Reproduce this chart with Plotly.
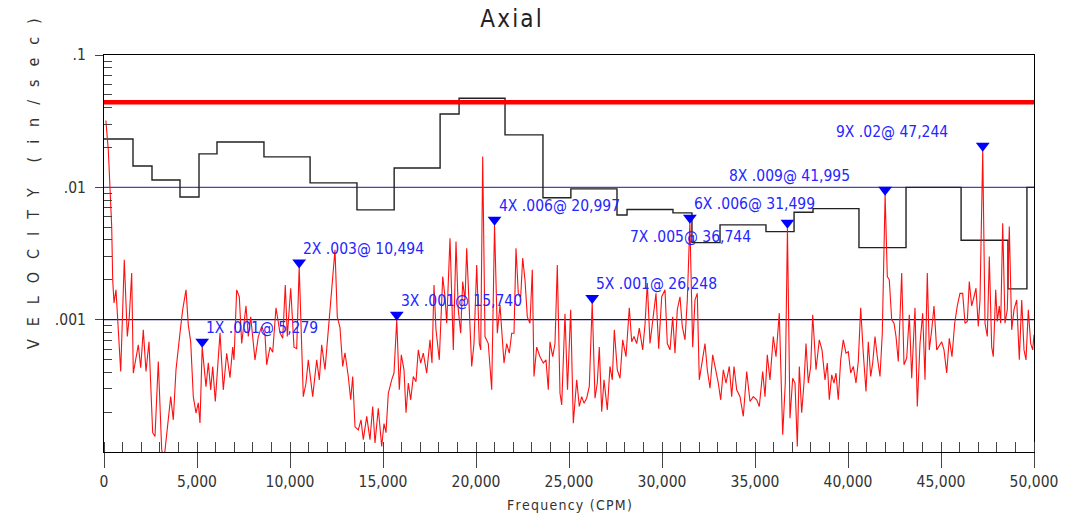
import math
import plotly.graph_objects as go

# ---------------- data ----------------
spec_freq = [100, 231, 414, 468, 538, 645, 715, 898, 1091, 1253, 1360, 1489, 1575, 1720, 1844, 1973, 2113, 2258, 2419, 2618,
             2742, 2919, 3102, 3226, 3371, 3586, 3726, 3871, 4086, 4231, 4409, 4532, 4661, 4801, 4946, 5070, 5161, 5279, 5484, 5608,
             5737, 5844, 5984, 6237, 6414, 6597, 6774, 6919, 6989, 7134, 7274, 7403, 7634, 7758, 7887, 8118, 8296, 8478, 8656, 8747,
             8925, 9070, 9247, 9462, 9608, 9747, 9855, 10038, 10215, 10360, 10494, 10715, 10860, 10984, 11220, 11435, 11575, 11704, 11882, 12059,
             12242, 12419, 12543, 12688, 12833, 12957, 13134, 13263, 13371, 13495, 13672, 13817, 13941, 14124, 14301, 14446, 14570, 14747, 14930, 15054,
             15161, 15285, 15468, 15591, 15740, 15876, 15984, 16129, 16237, 16360, 16489, 16629, 16774, 16898, 17027, 17167, 17349, 17527, 17634, 17742,
             17849, 18027, 18210, 18333, 18425, 18602, 18780, 18925, 19048, 19177, 19285, 19409, 19500, 19640, 19769, 19892, 20038, 20178, 20253, 20360,
             20484, 20661, 20844, 20997, 21146, 21290, 21435, 21505, 21650, 21790, 21919, 22043, 22150, 22274, 22403, 22511, 22634, 22758, 22903, 23027,
             23118, 23263, 23441, 23618, 23763, 23887, 23978, 24124, 24247, 24371, 24516, 24608, 24785, 24919, 25091, 25231, 25414, 25554, 25683, 25806,
             25951, 26091, 26248, 26398, 26521, 26629, 26758, 26882, 27059, 27204, 27328, 27436, 27597, 27742, 27887, 28064, 28242, 28371, 28495, 28640,
             28780, 28962, 29086, 29210, 29355, 29500, 29677, 29822, 29984, 30161, 30285, 30430, 30575, 30699, 30822, 30968, 31091, 31237, 31360, 31499,
             31650, 31774, 31897, 32005, 32188, 32312, 32435, 32581, 32726, 32903, 33027, 33156, 33296, 33441, 33618, 33747, 33871, 34016, 34194, 34371,
             34554, 34731, 34909, 35091, 35231, 35414, 35538, 35661, 35806, 35984, 36129, 36306, 36489, 36629, 36744, 36881, 37027, 37150, 37274, 37382,
             37511, 37634, 37742, 37866, 37995, 38102, 38280, 38457, 38602, 38763, 38887, 38995, 39124, 39247, 39355, 39478, 39607, 39747, 39892, 40016,
             40145, 40285, 40430, 40553, 40682, 40822, 40968, 41091, 41220, 41328, 41452, 41575, 41720, 41844, 41995, 42113, 42220, 42349, 42473, 42581,
             42704, 42887, 43011, 43156, 43296, 43425, 43602, 43726, 43871, 44016, 44140, 44263, 44371, 44500, 44624, 44769, 44909, 45038, 45161, 45306,
             45446, 45591, 45736, 45876, 46021, 46166, 46290, 46414, 46521, 46650, 46774, 46882, 47005, 47097, 47244, 47366, 47489, 47597, 47726, 47812,
             47941, 48027, 48134, 48210, 48317, 48441, 48565, 48672, 48801, 48925, 49070, 49210, 49339, 49462, 49570, 49694, 49823, 49930, 50000]

spec_amp = [0.032, 0.0192, 0.00505, 0.0020, 0.00134, 0.00168, 0.00113, 0.000406, 0.00283, 0.000746, 0.00105, 0.00225, 0.000395, 0.000497, 0.000645, 0.000433, 0.000838, 0.000406, 0.00068, 0.00014,
            0.000131, 0.000483, 0.000104, 0.0000873, 0.000131, 0.000262, 0.000175, 0.000418, 0.000795, 0.00119, 0.00168, 0.000914, 0.00068, 0.000262, 0.000197, 0.000235, 0.000166, 0.00062, 0.000312, 0.000473,
            0.000295, 0.000443, 0.000241, 0.000795, 0.000295, 0.000558, 0.000365, 0.00062, 0.000497, 0.00168, 0.00149, 0.00066, 0.00127, 0.000746, 0.00105, 0.000497, 0.000746, 0.00089, 0.000768, 0.000456,
            0.00062, 0.000568, 0.00123, 0.000795, 0.000724, 0.00183, 0.000746, 0.00173, 0.00062, 0.000604, 0.0025, 0.000262, 0.000332, 0.000497, 0.000262, 0.000497, 0.000351, 0.000645, 0.000418, 0.000838,
            0.00158, 0.00337, 0.00105, 0.00087, 0.000443, 0.000562, 0.000372, 0.000248, 0.000372, 0.000155, 0.000147, 0.000175, 0.000124, 0.000186, 0.000124, 0.000221, 0.000117, 0.000214, 0.00011, 0.000164,
            0.00014, 0.000278, 0.000351, 0.000395, 0.0010, 0.000295, 0.000542, 0.000418, 0.000198, 0.000332, 0.000248, 0.000372, 0.00034, 0.000591, 0.00047, 0.000558, 0.000395, 0.000704, 0.00047, 0.00183,
            0.000838, 0.000497, 0.00212, 0.00149, 0.00094, 0.00413, 0.000591, 0.00389, 0.00119, 0.00079, 0.00194, 0.00141, 0.00347, 0.00105, 0.000443, 0.00066, 0.00259, 0.00066, 0.000591, 0.0171,
            0.000746, 0.00066, 0.000295, 0.0052, 0.00079, 0.00129, 0.00062, 0.00047, 0.00066, 0.000558, 0.00079, 0.00079, 0.00347, 0.00158, 0.00149, 0.00292, 0.0020, 0.00105, 0.00094, 0.00238,
            0.000372, 0.00062, 0.000525, 0.00047, 0.000497, 0.000295, 0.00068, 0.000525, 0.00066, 0.00259, 0.000278, 0.000227, 0.00111, 0.000295, 0.00119, 0.000165, 0.000351, 0.000221, 0.000262, 0.000234,
            0.000255, 0.000313, 0.00135, 0.000255, 0.000332, 0.00062, 0.000202, 0.000351, 0.000208, 0.000443, 0.000351, 0.000838, 0.000418, 0.000361, 0.000704, 0.000525, 0.00123, 0.00068, 0.000746, 0.00066,
            0.000863, 0.000591, 0.000914, 0.00189, 0.00066, 0.0010, 0.00158, 0.000604, 0.00149, 0.00168, 0.00066, 0.000591, 0.00105, 0.000558, 0.00119, 0.00149, 0.00089, 0.000704, 0.00141, 0.0054,
            0.00062, 0.00141, 0.00158, 0.000351, 0.000525, 0.00066, 0.000418, 0.000303, 0.000542, 0.000418, 0.000332, 0.000248, 0.000418, 0.000332, 0.000443, 0.000262, 0.000443, 0.000295, 0.000262, 0.000186,
            0.000406, 0.000241, 0.000262, 0.000248, 0.000221, 0.000406, 0.000262, 0.000542, 0.000351, 0.000746, 0.000525, 0.00112, 0.000135, 0.000332, 0.0049, 0.00018, 0.000361, 0.000332, 0.00011, 0.000443,
            0.000198, 0.000332, 0.00066, 0.000332, 0.000443, 0.00109, 0.000418, 0.000704, 0.000591, 0.000351, 0.00047, 0.000248, 0.000383, 0.000332, 0.000395, 0.000248, 0.000497, 0.000704, 0.000558, 0.000573,
            0.000395, 0.000443, 0.000332, 0.000483, 0.00123, 0.000558, 0.000287, 0.00068, 0.000372, 0.00047, 0.000746, 0.000525, 0.000372, 0.00079, 0.0089, 0.00212, 0.0020, 0.0010, 0.00094, 0.000746,
            0.000483, 0.00225, 0.000456, 0.000513, 0.00109, 0.000361, 0.00123, 0.000221, 0.00066, 0.00112, 0.000351, 0.00225, 0.000591, 0.000838, 0.00127, 0.000591, 0.000645, 0.00068, 0.000591, 0.000395,
            0.000724, 0.000525, 0.00094, 0.00127, 0.00158, 0.00158, 0.00094, 0.00097, 0.00194, 0.00127, 0.00149, 0.00173, 0.00089, 0.00141, 0.019, 0.00094, 0.000746, 0.0030, 0.00062, 0.000525,
            0.00168, 0.00097, 0.00127, 0.00094, 0.00535, 0.00094, 0.00119, 0.00505, 0.000838, 0.00119, 0.00141, 0.000497, 0.00141, 0.000591, 0.000497, 0.00119, 0.00066, 0.000591, 0.00077]

band_start = [0, 1559, 2580, 4086, 5108, 6075, 8600, 11080, 13600, 15600, 18070, 19090, 21560, 23600,
              25100, 27580, 28120, 30590, 31610, 33120, 35590, 37100, 38120, 40590, 43120, 46080, 48600, 49620, 50000]
band_level = [0.0232, 0.0145, 0.01137, 0.00846, 0.0179, 0.0220, 0.0170, 0.0108, 0.00675, 0.0140, 0.0358, 0.0471, 0.0249, 0.00835,
              0.00973, 0.00618, 0.00680, 0.00641, 0.00382, 0.00520, 0.00463, 0.00649, 0.00690, 0.00350, 0.0100, 0.00398, 0.00171, 0.0100, 0.0100]

alarm_level = 0.0439
freq_span = [0, 50000]

# decade reference lines drawn across the plot
ref_levels = [0.01, 0.001]
ref_colors = ["#4646b4", "#14147e"]

marker_order = ["1X", "2X", "3X", "4X", "5X", "6X", "7X", "8X", "9X"]
marker_freq = [5279, 10494, 15740, 20997, 26248, 31499, 36744, 41995, 47244]
marker_amp = [0.00068, 0.0027, 0.00109, 0.0057, 0.00146, 0.0059, 0.0054, 0.0096, 0.0206]
marker_text = [".001", ".003", ".001", ".006", ".001", ".006", ".005", ".009", ".02"]
marker_freq_text = ["5,279", "10,494", "15,740", "20,997", "26,248", "31,499", "36,744", "41,995", "47,244"]
label_side = ["ru", "ru", "ru", "ru", "ru", "ru", "ld", "lu", "lu"]

x_tick_vals = [0, 5000, 10000, 15000, 20000, 25000, 30000, 35000, 40000, 45000, 50000]
x_tick_text = ["0", "5,000", "10,000", "15,000", "20,000", "25,000", "30,000", "35,000", "40,000", "45,000", "50,000"]
y_tick_vals = [0.1, 0.01, 0.001]
y_tick_text = [".1", ".01", ".001"]

title_text = "Axial"
y_title_text = "VELOCITY (in/sec)"
x_title_text = "Frequency (CPM)"

# ---------------- helpers ----------------
HS = "\u200a"   # hair space
FONT = "Liberation Sans Narrow, DejaVu Sans Condensed, Arial Narrow, Liberation Sans, sans-serif"


def spaced(s, sep=HS):
    return sep.join(list(s))


fig = go.Figure()

for lvl, col in zip(ref_levels, ref_colors):
    fig.add_trace(go.Scatter(x=freq_span, y=[lvl, lvl], mode="lines",
                             line=dict(color=col, width=1.2),
                             hoverinfo="skip", showlegend=False))
fig.add_trace(go.Scatter(x=band_start, y=band_level, mode="lines",
                         line=dict(color="#222222", width=1.4, shape="hv"),
                         hoverinfo="skip", showlegend=False))
fig.add_trace(go.Scatter(x=freq_span, y=[alarm_level, alarm_level], mode="lines",
                         line=dict(color="#ff0000", width=4.5),
                         hoverinfo="skip", showlegend=False))
fig.add_trace(go.Scatter(x=spec_freq, y=spec_amp, mode="lines",
                         line=dict(color="#ff1010", width=1.1),
                         showlegend=False))
fig.add_trace(go.Scatter(x=marker_freq, y=marker_amp, mode="markers",
                         marker=dict(symbol="triangle-down", size=12, color="#0000ff",
                                     line=dict(width=0)),
                         showlegend=False))

annotations = []
for o, f, a, t, ft, side in zip(marker_order, marker_freq, marker_amp, marker_text, marker_freq_text, label_side):
    txt = o + " " + t + "@ " + ft
    if side == "ru":
        xa, xs, ys = "left", 3, 14
    elif side == "ld":
        xa, xs, ys = "right", -35, -14
    else:
        xa, xs, ys = "right", -34, 14
    # annotation positions on a log axis are given in log10 units
    annotations.append(dict(x=f, y=math.log10(a), xref="x", yref="y", yanchor="middle", xanchor=xa,
                            xshift=xs, yshift=ys, showarrow=False, text=txt, borderpad=0,
                            font=dict(family=FONT, size=15.5, color="#2525ff")))

# axis titles as annotations
GAP = "\u2002\u2009\u2009"
annotations.append(dict(x=-0.0763, y=0.675, xref="paper", yref="paper", showarrow=False,
                        textangle=-90, xanchor="center", yanchor="middle",
                        text=GAP.join(list("VELOCITY")) + GAP + GAP + GAP.join(list("(in/sec)")),
                        font=dict(family=FONT, size=16, color="#333333")))
annotations.append(dict(x=0.5, y=-0.1335, xref="paper", yref="paper", showarrow=False,
                        xanchor="center", yanchor="middle",
                        text=spaced(x_title_text),
                        font=dict(family=FONT, size=14, color="#333333")))

minor_y = [d * 10.0 ** e for e in (-4, -3, -2) for d in range(2, 10)]

fig.update_layout(
    width=1069, height=516,
    margin=dict(l=104, r=35, t=55, b=64),
    paper_bgcolor="white", plot_bgcolor="white",
    title=dict(text=spaced(title_text), x=0.478, xref="container", xanchor="center",
               y=1 - 18.5 / 516, yref="container", yanchor="middle",
               font=dict(family=FONT, size=24, color="#222222")),
    annotations=annotations,
    showlegend=False,
    xaxis=dict(range=[0, 50000], tickmode="array", tickvals=x_tick_vals,
               ticktext=x_tick_text,
               ticks="outside", ticklen=15, tickcolor="#444444", tickwidth=1,
               showline=True, linecolor="black", linewidth=1, mirror=True,
               showgrid=False, zeroline=False,
               minor=dict(ticks="inside", dtick=1000, ticklen=10, tickcolor="#444444", showgrid=False),
               tickfont=dict(family=FONT, size=15.5, color="#333333")),
    yaxis=dict(type="log", range=[-4, -1], tickmode="array", tickvals=y_tick_vals, ticktext=y_tick_text,
               ticks="outside", ticklen=8, tickcolor="#444444", ticklabelstandoff=6,
               showline=True, linecolor="black", linewidth=1, mirror=True,
               showgrid=False, zeroline=False,
               minor=dict(ticks="inside", tickmode="array", tickvals=minor_y, ticklen=8,
                          tickcolor="#444444", showgrid=False),
               tickfont=dict(family=FONT, size=15.5, color="#333333")),
)

fig.write_html("out.html")
